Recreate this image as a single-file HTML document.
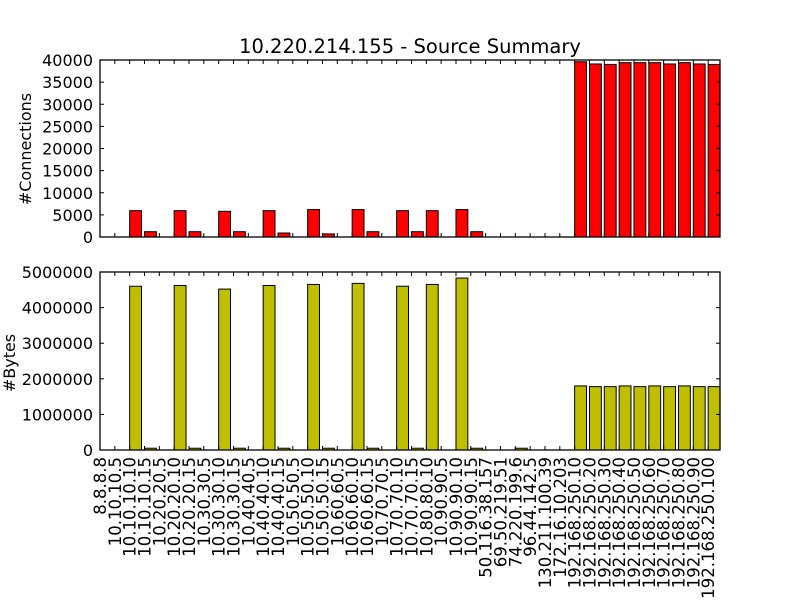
<!DOCTYPE html>
<html><head><meta charset="utf-8"><style>
body{margin:0;background:#fff}
svg{display:block;font-family:"DejaVu Sans","Liberation Sans",sans-serif}
</style></head><body>
<svg id="chart" width="800" height="600" viewBox="0 0 800 600" xmlns="http://www.w3.org/2000/svg">
<rect width="800" height="600" fill="#fff"/>
<text x="410" y="53" font-size="19.5" text-anchor="middle">10.220.214.155 - Source Summary</text>
<text transform="translate(31,149) rotate(-90)" font-size="16" text-anchor="middle">#Connections</text>
<text transform="translate(15,363) rotate(-90)" font-size="16" text-anchor="middle">#Bytes</text>
<g id="g"></g>
</svg>
<script>
const categories=["8.8.8.8","10.10.10.5","10.10.10.10","10.10.10.15","10.20.20.5","10.20.20.10","10.20.20.15","10.30.30.5","10.30.30.10","10.30.30.15","10.40.40.5","10.40.40.10","10.40.40.15","10.50.50.5","10.50.50.10","10.50.50.15","10.60.60.5","10.60.60.10","10.60.60.15","10.70.70.5","10.70.70.10","10.70.70.15","10.80.80.10","10.90.90.5","10.90.90.10","10.90.90.15","50.116.38.157","69.50.219.51","74.220.199.6","96.44.142.5","130.211.100.39","172.16.10.203","192.168.250.10","192.168.250.20","192.168.250.30","192.168.250.40","192.168.250.50","192.168.250.60","192.168.250.70","192.168.250.80","192.168.250.90","192.168.250.100"];
const connections=[0,0,5950,1200,0,5950,1200,0,5800,1200,0,5950,900,0,6200,700,0,6200,1200,0,5950,1200,5950,0,6200,1200,0,0,0,0,0,0,39600,39100,39000,39400,39400,39400,39100,39400,39100,39000];
const bytes=[0,0,4600000,50000,0,4620000,50000,0,4520000,50000,0,4620000,50000,0,4650000,50000,0,4680000,50000,0,4600000,50000,4650000,0,4830000,50000,0,0,50000,0,0,0,1800000,1780000,1780000,1800000,1780000,1800000,1780000,1800000,1780000,1780000];
const connTicks=[0,5000,10000,15000,20000,25000,30000,35000,40000];
const byteTicks=[0,1000000,2000000,3000000,4000000,5000000];

const NS="http://www.w3.org/2000/svg";
const g=document.getElementById('g');
const X0=100,X1=720,XMAX=41.8;
const xs=v=>X0+(v/XMAX)*(X1-X0);
function el(t,a,p){const e=document.createElementNS(NS,t);for(const k in a)e.setAttribute(k,a[k]);(p||g).appendChild(e);return e;}

function panel(name,top,bottom,ymax,ticks,vals,color){
  const ys=v=>bottom-(v/ymax)*(bottom-top);
  vals.forEach((v,i)=>{
    if(v<=0)return;
    const r=el('rect',{x:xs(i),y:ys(v),width:xs(i+0.8)-xs(i),height:bottom-ys(v),fill:color,stroke:'#000','stroke-width':1});
    
    
  });
  ticks.forEach(t=>{
    const y=ys(t);
    el('line',{x1:X0,x2:X0+4,y1:y,y2:y,stroke:'#000'});
    el('line',{x1:X1,x2:X1-4,y1:y,y2:y,stroke:'#000'});
    const tx=el('text',{x:X0-7,y:y+6,'font-size':16,'text-anchor':'end'});
    tx.textContent=t;
    
    
  });
  categories.forEach((c,i)=>{
    const x=xs(i);
    el('line',{x1:x,x2:x,y1:bottom,y2:bottom-4,stroke:'#000'});
    el('line',{x1:x,x2:x,y1:top,y2:top+4,stroke:'#000'});
  });
  const f=el('rect',{x:X0,y:top,width:X1-X0,height:bottom-top,fill:'none',stroke:'#000','stroke-width':1.3});
  
  
}
panel('connections',60,237,40000,connTicks,connections,'#ff0000');
panel('bytes',272,450,5000000,byteTicks,bytes,'#bfbf00');

categories.forEach((c,i)=>{
  const x=xs(i);
  const t=el('text',{transform:'translate('+(x+6)+',457) rotate(-90)','font-size':16.5,'text-anchor':'end'});
  t.textContent=c;
  
  
});
</script>
</body></html>
